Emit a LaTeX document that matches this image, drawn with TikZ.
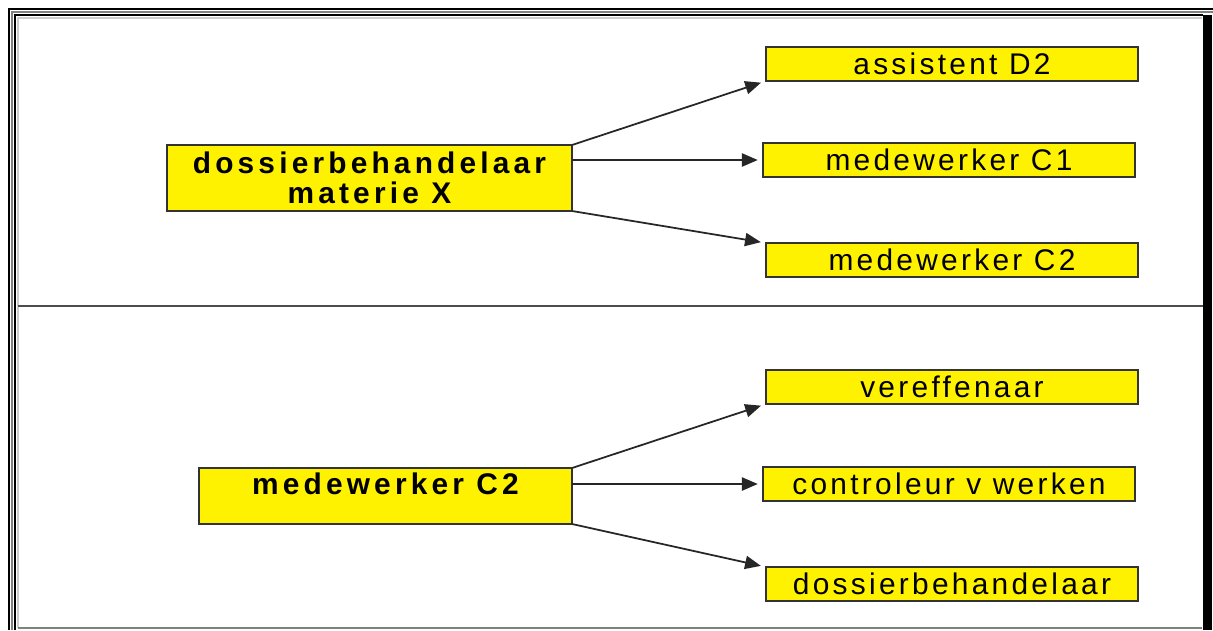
\documentclass[tikz,border=0pt]{standalone}
\usepackage{fontspec}
\usetikzlibrary{arrows.meta}
\newfontfamily\rolefont[LetterSpace=11]{Liberation Sans}
\newfontfamily\headfont[LetterSpace=14]{Liberation Sans}
\begin{document}
\begin{tikzpicture}[x=0.02cm,y=-0.02cm,inner sep=0pt,outer sep=0pt,
rolebox/.style={draw=black!80,fill=yellow,line width=1.1pt,minimum width=7.44cm,minimum height=0.68cm,font=\rolefont\fontsize{17}{17}\selectfont},
headbox/.style={draw=black!80,fill=yellow,line width=1.1pt,align=center,font=\headfont\bfseries\fontsize{17}{17}\selectfont},
link/.style={-{Triangle[length=9pt,width=7.5pt]},line width=1pt,black!85,shorten >=3pt}]
\useasboundingbox (0,0) rectangle (1213,630);
% window frame
\draw[line width=1.2pt] (9,630) -- (9,9) -- (1213,9);
\draw[gray,line width=0.6pt] (12,630) -- (12,12) -- (1213,12);
\draw[line width=1.2pt] (15,630) -- (15,15) -- (1203,15);
\draw[black!20,line width=1pt] (18,628) -- (18,18) -- (1202,18);
\draw[gray,line width=1pt] (18,628) -- (1202,628);
\fill (1203,15) rectangle (1212,630);
\draw[black!70,line width=1.1pt] (18,306) -- (1203,306);
% upper part
\draw (369.5,178) node[headbox,minimum width=8.1cm,minimum height=1.32cm] (dossX) {dossierbehandelaar\\materie X};
\draw (952,64) node[rolebox] (assD) {assistent D2};
\draw (949,160) node[rolebox] (medC1) {medewerker C1};
\draw (952,260) node[rolebox] (medC2) {medewerker C2};
\draw[link] (dossX.north east) -- (assD.south west);
\draw[link] (dossX.east |- medC1.west) -- (medC1.west);
\draw[link] (dossX.south east) -- (medC2.north west);
% lower part
\draw (385.5,496) node[headbox,minimum width=7.46cm,minimum height=1.12cm,text height=12.5pt,text depth=14.7pt] (medC2b) {medewerker C2};
\draw (952,387) node[rolebox] (veref) {vereffenaar};
\draw (949,484) node[rolebox] (contr) {controleur v werken};
\draw (952,584) node[rolebox] (dossB) {dossierbehandelaar};
\draw[link] (medC2b.north east) -- (veref.south west);
\draw[link] (medC2b.east |- contr.west) -- (contr.west);
\draw[link] (medC2b.south east) -- (dossB.north west);
\end{tikzpicture}
\end{document}
